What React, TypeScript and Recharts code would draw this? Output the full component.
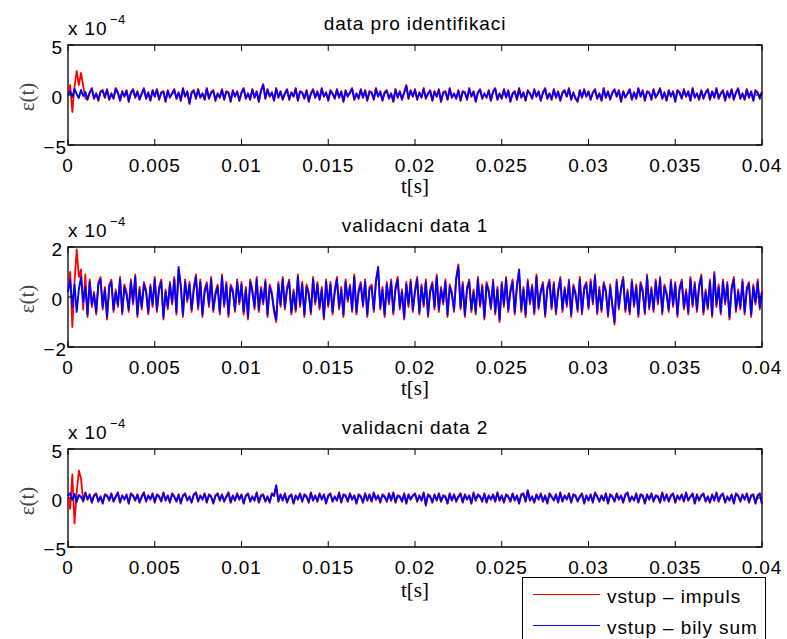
import React from 'react';
import { LineChart, Line, XAxis, YAxis, ReferenceArea, Legend, Label } from 'recharts';

// sample times (uniform sampling, step 0.125 ms)
const TIME_STEP = 0.000125;
const SAMPLE_COUNT = 321;
const TIME: number[] = Array.from({ length: SAMPLE_COUNT }, (_, i) => Number((i * TIME_STEP).toFixed(6)));

const X_TICKS = [0, 0.005, 0.01, 0.015, 0.02, 0.025, 0.03, 0.035, 0.04];
const X_TICK_LABELS = ['0', '0.005', '0.01', '0.015', '0.02', '0.025', '0.03', '0.035', '0.04'];

const TITLES = ['data pro identifikaci', 'validacni data 1', 'validacni data 2'];
const SERIES_NAMES = ['vstup \u2013 impuls', 'vstup \u2013 bily sum'];

const Y_TICKS_5 = [-5, 0, 5];
const Y_TICK_LABELS_5 = ['\u22125', '0', '5'];
const Y_TICKS_2 = [-2, 0, 2];
const Y_TICK_LABELS_2 = ['\u22122', '0', '2'];

// values in units of 1e-4
const IDENT_IMPULS = [
  0.3, 1.0, -1.7, 0.8, 2.4, 1.0, 2.2, 0.9, -0.3, -0.5, 0.3, 0.7, -0.4, 0.2, -0.6, 0.4, 0.5, -0.3, 0.6, -0.5,
  0.2, -0.4, 0.7, 0.3, -0.6, 0.4, -0.2, 0.5, -0.7, 0.3, 0.6, -0.3, 0.4, -0.5, 0.2, 0.7, -0.4, 0.3, -0.6, 0.5,
  -0.2, 0.6, -0.5, 0.3, 0.4, -0.7, 0.5, -0.3, 0.2, 0.6, -0.4, 0.3, -0.6, 0.7, -0.2, 0.4, -0.9, 0.3, 0.5, -0.4,
  0.6, -0.3, 0.2, -0.5, 0.7, -0.4, 0.3, 0.5, -0.6, 0.2, -0.3, 0.6, -0.5, 0.4, 0.3, -0.7, 0.5, -0.2, 0.4, -0.6,
  0.3, 0.7, -0.4, 0.2, -0.5, 0.6, -0.3, 0.4, -0.7, 0.5, 1.1, -0.4, 0.6, -0.2, 0.3, -0.6, 0.7, -0.3, 0.4, -0.5,
  0.2, 0.6, -0.5, 0.3, -0.2, 0.7, -0.6, 0.4, 0.3, -0.4, 0.5, -0.7, 0.2, 0.6, -0.3, 0.4, -0.5, 0.7, -0.2, 0.3,
  -0.6, 0.5, 0.2, -0.4, 0.6, -0.3, 0.4, -0.7, 0.5, -0.2, 0.3, 0.7, -0.5, 0.2, -0.4, 0.6, -0.3, 0.5, -0.6, 0.4,
  0.3, -0.5, 0.7, -0.2, 0.4, -0.6, 0.3, 0.5, -0.4, 0.2, -0.7, 0.6, -0.3, 0.4, -0.5, 0.3, 1.0, -0.4, 0.5, -0.2,
  0.6, -0.5, 0.3, -0.3, 0.7, -0.4, 0.2, 0.5, -0.6, 0.4, -0.2, 0.6, -0.7, 0.3, 0.4, -0.5, 0.7, -0.3, 0.2, -0.4,
  0.5, -0.6, 0.4, 0.3, -0.5, 0.7, -0.2, 0.4, -0.7, 0.3, 0.6, -0.4, 0.2, -0.3, 0.5, -0.6, 0.4, 0.7, -0.5, 0.2,
  -0.4, 0.6, -0.3, 0.5, -0.7, 0.2, 0.4, -0.5, 0.7, -0.3, 0.3, -0.6, 0.5, 0.2, -0.4, 0.6, -0.2, 0.4, -0.6, 0.3,
  0.7, -0.4, 0.2, -0.5, 0.6, -0.3, 0.4, -0.6, 0.3, 0.5, -0.2, 0.7, -0.5, 0.3, -0.4, -0.7, 0.5, -0.3, 0.6, -0.2,
  0.4, -0.5, 0.3, 0.6, -0.4, 0.2, -0.6, 0.7, -0.3, 0.4, -0.5, 0.3, 0.6, -0.2, 0.5, -0.7, 0.4, -0.3, 0.2, 0.6,
  -0.5, 0.3, -0.4, 0.7, -0.2, 0.5, -0.6, 0.4, 0.3, -0.5, 0.6, -0.3, 0.2, 0.7, -0.4, 0.3, -0.6, 0.5, -0.2, 0.4,
  -0.7, 0.5, 0.3, -0.4, 0.6, -0.2, 0.4, -0.6, 0.7, -0.3, 0.2, -0.5, 0.5, -0.4, 0.3, 0.6, -0.5, 0.4, -0.3, 0.7,
  -0.4, 0.2, 0.5, -0.6, 0.4, -0.3, 0.6, -0.5, 0.3, 0.7, -0.4, 0.2, -0.5, 0.6, -0.3, 0.4, -0.6, 0.5, 0.3, -0.4,
  0.4,
];
const IDENT_SUM = [
  0, 0.4, -0.2, 0.6, 0.1, -0.3, 0.5, -0.1, 0.3, -0.4, 0.2, 0.6, -0.3, 0.1, -0.5, 0.3, 0.4, -0.2, 0.5, -0.4,
  0.1, -0.3, 0.6, 0.2, -0.5, 0.3, -0.1, 0.4, -0.6, 0.2, 0.5, -0.2, 0.3, -0.4, 0.1, 0.6, -0.3, 0.2, -0.5, 0.4,
  -0.1, 0.5, -0.4, 0.2, 0.3, -0.6, 0.4, -0.2, 0.1, 0.5, -0.3, 0.2, -0.5, 0.6, -0.1, 0.3, -0.8, 0.2, 0.4, -0.3,
  0.5, -0.2, 0.1, -0.4, 0.6, -0.3, 0.2, 0.4, -0.5, 0.1, -0.2, 0.5, -0.4, 0.3, 0.2, -0.6, 0.4, -0.1, 0.3, -0.5,
  0.2, 0.6, -0.3, 0.1, -0.4, 0.5, -0.2, 0.3, -0.6, 0.4, 1.0, -0.3, 0.5, -0.1, 0.2, -0.5, 0.6, -0.2, 0.3, -0.4,
  0.1, 0.5, -0.4, 0.2, -0.1, 0.6, -0.5, 0.3, 0.2, -0.3, 0.4, -0.6, 0.1, 0.5, -0.2, 0.3, -0.4, 0.6, -0.1, 0.2,
  -0.5, 0.4, 0.1, -0.3, 0.5, -0.2, 0.3, -0.6, 0.4, -0.1, 0.2, 0.6, -0.4, 0.1, -0.3, 0.5, -0.2, 0.4, -0.5, 0.3,
  0.2, -0.4, 0.6, -0.1, 0.3, -0.5, 0.2, 0.4, -0.3, 0.1, -0.6, 0.5, -0.2, 0.3, -0.4, 0.2, 0.9, -0.3, 0.4, -0.1,
  0.5, -0.4, 0.2, -0.2, 0.6, -0.3, 0.1, 0.4, -0.5, 0.3, -0.1, 0.5, -0.6, 0.2, 0.3, -0.4, 0.6, -0.2, 0.1, -0.3,
  0.4, -0.5, 0.3, 0.2, -0.4, 0.6, -0.1, 0.3, -0.6, 0.2, 0.5, -0.3, 0.1, -0.2, 0.4, -0.5, 0.3, 0.6, -0.4, 0.1,
  -0.3, 0.5, -0.2, 0.4, -0.6, 0.1, 0.3, -0.4, 0.6, -0.2, 0.2, -0.5, 0.4, 0.1, -0.3, 0.5, -0.1, 0.3, -0.5, 0.2,
  0.6, -0.3, 0.1, -0.4, 0.5, -0.2, 0.3, -0.5, 0.2, 0.4, -0.1, 0.6, -0.4, 0.2, -0.3, -0.6, 0.4, -0.2, 0.5, -0.1,
  0.3, -0.4, 0.2, 0.5, -0.3, 0.1, -0.5, 0.6, -0.2, 0.3, -0.4, 0.2, 0.5, -0.1, 0.4, -0.6, 0.3, -0.2, 0.1, 0.5,
  -0.4, 0.2, -0.3, 0.6, -0.1, 0.4, -0.5, 0.3, 0.2, -0.4, 0.5, -0.2, 0.1, 0.6, -0.3, 0.2, -0.5, 0.4, -0.1, 0.3,
  -0.6, 0.4, 0.2, -0.3, 0.5, -0.1, 0.3, -0.5, 0.6, -0.2, 0.1, -0.4, 0.4, -0.3, 0.2, 0.5, -0.4, 0.3, -0.2, 0.6,
  -0.3, 0.1, 0.4, -0.5, 0.3, -0.2, 0.5, -0.4, 0.2, 0.6, -0.3, 0.1, -0.4, 0.5, -0.2, 0.3, -0.5, 0.4, 0.2, -0.3,
  0.3,
];

const VAL1_IMPULS = [
  0.3, 1.0, -1.2, 0.6, 1.9, 0.8, 1.1, -0.5, 0.9, -0.8, 0.7, -0.4, 0.2, -0.7, 0.6, 0.8, -0.5, 0.4, -0.9, 0.5,
  0.7, -0.6, 0.3, -0.4, 0.8, -0.7, 0.5, 0.2, -0.6, 0.7, -0.3, 0.9, -0.8, 0.4, -0.5, 0.6, 0.3, -0.7, 0.5, -0.4,
  0.8, -0.6, 0.4, 0.7, -0.9, 0.3, -0.5, 0.6, -0.3, 0.8, -0.7, 1.1, 0.5, -0.8, 0.7, -0.2, 0.6, -0.6, 0.4, 0.9,
  -0.5, 0.7, -0.8, 0.3, 0.6, -0.4, 0.8, -0.6, 0.2, 0.5, -0.7, 0.9, -0.4, 0.6, -0.8, 0.5, 0.3, -0.6, 0.7, -0.3,
  0.6, -0.7, 0.4, -0.9, 0.7, 0.3, -0.5, 0.8, -0.6, 0.4, -0.3, 0.7, -0.8, 0.5, 0.2, -0.6, -1.0, 0.6, -0.4, 0.8,
  -0.5, 0.4, 0.7, -0.7, 0.3, -0.6, 0.9, -0.4, 0.6, -0.8, 0.5, 0.2, -0.7, 0.8, -0.3, 0.6, -0.5, 0.4, -0.9, 0.7,
  -0.4, 0.6, -0.7, 0.3, 0.8, -0.5, 0.4, -0.8, 0.7, -0.2, 0.5, -0.6, 0.9, -0.7, 0.3, 0.6, -0.4, 0.7, -0.8, 0.4,
  0.5, -0.6, 0.7, 1.1, -0.5, 0.4, -0.8, 0.6, -0.3, 0.7, -0.7, 0.4, 0.8, -0.5, 0.3, -0.9, 0.6, -0.4, 0.7, -0.6,
  0.3, 0.8, -0.7, 0.5, -0.4, 0.7, -0.8, 0.3, 0.6, -0.5, 0.9, -0.6, 0.4, -0.3, 0.7, -0.8, 0.5, 0.2, -0.6, 0.8,
  1.3, -0.5, 0.6, -0.8, 0.4, 0.7, -0.6, 0.3, -0.7, 0.8, -0.4, 0.5, -0.9, 0.6, 0.3, -0.5, 0.7, -0.7, 0.4, -1.0,
  0.6, -0.4, 0.8, -0.6, 0.3, 0.7, -0.7, 0.5, 1.0, -0.6, 0.4, -0.8, 0.7, -0.3, 0.5, -0.7, 0.9, -0.5, 0.3, 0.6,
  -0.8, 0.4, 0.7, -0.5, 0.6, -0.7, 0.3, 0.8, -0.6, 0.4, -0.4, 0.7, -0.8, 0.5, 0.2, -0.6, 0.8, -0.7, 0.4, 0.6,
  -0.5, 0.7, -0.3, 0.9, -0.7, 0.4, -0.6, 0.6, 0.3, -0.8, 0.5, -0.4, -1.1, 0.7, -0.5, 0.4, 0.8, -0.6, 0.3, -0.7,
  0.7, -0.4, 0.5, -0.8, 0.6, 0.3, -0.7, 0.9, -0.5, 0.4, -0.6, 0.7, -0.3, 0.8, -0.7, 0.5, 0.2, -0.6, 0.7, -0.4,
  0.6, -0.8, 0.4, 0.7, -0.5, 0.3, -0.7, 0.8, -0.4, 0.6, -0.6, 0.5, 0.9, -0.7, 0.3, -0.5, 0.7, -0.8, 1.0, -0.4,
  0.5, -0.7, 0.7, -0.3, 0.6, -0.9, 0.4, 0.8, -0.6, 0.3, -0.5, 0.7, -0.7, 0.4, 0.6, -0.8, 0.5, -0.3, 0.7, -0.5,
  0.3,
];
const VAL1_SUM = [
  0.2, 0.7, -0.4, 0.5, -0.6, 0.3, 0.8, -0.2, 0.4, -0.7, 0.6, -0.3, 0.1, -0.6, 0.5, 0.7, -0.4, 0.3, -0.8, 0.4,
  0.6, -0.5, 0.2, -0.3, 0.7, -0.6, 0.4, 0.1, -0.5, 0.6, -0.2, 0.8, -0.7, 0.3, -0.4, 0.5, 0.2, -0.6, 0.4, -0.3,
  0.7, -0.5, 0.3, 0.6, -0.8, 0.2, -0.4, 0.5, -0.2, 0.7, -0.6, 1.2, 0.4, -0.7, 0.6, -0.1, 0.5, -0.5, 0.3, 0.8,
  -0.4, 0.6, -0.7, 0.2, 0.5, -0.3, 0.7, -0.5, 0.1, 0.4, -0.6, 0.8, -0.3, 0.5, -0.7, 0.4, 0.2, -0.5, 0.6, -0.2,
  0.5, -0.6, 0.3, -0.8, 0.6, 0.2, -0.4, 0.7, -0.5, 0.3, -0.2, 0.6, -0.7, 0.4, 0.1, -0.5, -0.9, 0.5, -0.3, 0.7,
  -0.4, 0.3, 0.6, -0.6, 0.2, -0.5, 0.8, -0.3, 0.5, -0.7, 0.4, 0.1, -0.6, 0.7, -0.2, 0.5, -0.4, 0.3, -0.8, 0.6,
  -0.3, 0.5, -0.6, 0.2, 0.7, -0.4, 0.3, -0.7, 0.6, -0.1, 0.4, -0.5, 0.8, -0.6, 0.2, 0.5, -0.3, 0.6, -0.7, 0.3,
  0.4, -0.5, 0.6, 1.2, -0.4, 0.3, -0.7, 0.5, -0.2, 0.6, -0.6, 0.3, 0.7, -0.4, 0.2, -0.8, 0.5, -0.3, 0.6, -0.5,
  0.2, 0.7, -0.6, 0.4, -0.3, 0.6, -0.7, 0.2, 0.5, -0.4, 0.8, -0.5, 0.3, -0.2, 0.6, -0.7, 0.4, 0.1, -0.5, 0.7,
  1.2, -0.4, 0.5, -0.7, 0.3, 0.6, -0.5, 0.2, -0.6, 0.7, -0.3, 0.4, -0.8, 0.5, 0.2, -0.4, 0.6, -0.6, 0.3, -0.9,
  0.5, -0.3, 0.7, -0.5, 0.2, 0.6, -0.6, 0.4, 1.1, -0.5, 0.3, -0.7, 0.6, -0.2, 0.4, -0.6, 0.8, -0.4, 0.2, 0.5,
  -0.7, 0.3, 0.6, -0.4, 0.5, -0.6, 0.2, 0.7, -0.5, 0.3, -0.3, 0.6, -0.7, 0.4, 0.1, -0.5, 0.7, -0.6, 0.3, 0.5,
  -0.4, 0.6, -0.2, 0.8, -0.6, 0.3, -0.5, 0.5, 0.2, -0.7, 0.4, -0.3, -1.0, 0.6, -0.4, 0.3, 0.7, -0.5, 0.2, -0.6,
  0.6, -0.3, 0.4, -0.7, 0.5, 0.2, -0.6, 0.8, -0.4, 0.3, -0.5, 0.6, -0.2, 0.7, -0.6, 0.4, 0.1, -0.5, 0.6, -0.3,
  0.5, -0.7, 0.3, 0.6, -0.4, 0.2, -0.6, 0.7, -0.3, 0.5, -0.5, 0.4, 0.8, -0.6, 0.2, -0.4, 0.6, -0.7, 0.9, -0.3,
  0.4, -0.6, 0.6, -0.2, 0.5, -0.8, 0.3, 0.7, -0.5, 0.2, -0.4, 0.6, -0.6, 0.3, 0.5, -0.7, 0.4, -0.2, 0.6, -0.4,
  0.2,
];

const VAL2_IMPULS = [
  0.4, -1.1, 2.4, -2.6, 0.6, 2.8, 2.0, -0.4, 0.6, -0.2, 0.4, -0.5, 0.3, 0.5, -0.4, 0.2, -0.6, 0.4, 0.3, -0.3,
  0.5, -0.4, 0.2, 0.6, -0.5, 0.3, -0.2, 0.4, -0.6, 0.5, 0.3, -0.3, 0.4, -0.5, 0.2, 0.6, -0.4, 0.3, -0.2, 0.5,
  -0.5, 0.4, 0.2, -0.4, 0.6, -0.3, 0.3, -0.5, 0.5, 0.2, -0.4, 0.4, -0.6, 0.3, 0.5, -0.3, 0.2, -0.5, 0.4, 0.6,
  -0.4, 0.3, -0.2, 0.5, -0.5, 0.4, 0.2, -0.6, 0.3, 0.5, -0.3, 0.4, -0.4, 0.2, 0.6, -0.5, 0.3, -0.3, 0.5, -0.2,
  0.4, -0.6, 0.3, 0.5, -0.4, 0.2, -0.3, 0.6, -0.5, 0.3, 0.4, -0.4, 0.2, -0.5, 0.5, 0.3, 1.2, -0.4, 0.4, -0.3,
  0.5, -0.5, 0.2, 0.4, -0.6, 0.3, -0.2, 0.5, -0.4, 0.4, 0.2, -0.5, 0.6, -0.3, 0.3, -0.4, 0.5, -0.2, 0.4, -0.6,
  0.3, 0.5, -0.4, 0.2, -0.3, 0.6, -0.5, 0.4, 0.3, -0.4, 0.5, -0.2, 0.3, -0.6, 0.4, 0.2, -0.5, 0.5, -0.3, 0.4,
  -0.4, 0.6, -0.2, 0.3, -0.5, 0.4, 0.2, -0.4, 0.5, -0.3, 0.6, -0.5, 0.3, 0.2, -0.4, 0.5, -0.6, 0.4, -0.2, 0.3,
  0.5, -0.4, 0.3, -0.3, 0.6, -0.8, 0.4, 0.2, -0.5, 0.4, -0.3, 0.5, -0.4, 0.3, 0.2, -0.6, 0.5, -0.3, 0.4, -0.4,
  0.2, 0.5, -0.5, 0.4, -0.2, 0.3, -0.6, 0.6, -0.3, 0.4, 0.2, -0.4, 0.5, -0.5, 0.3, -0.2, 0.4, -0.4, 0.6, -0.3,
  0.3, -0.5, 0.4, 0.2, -0.4, 0.5, -0.3, 0.3, -0.6, 0.4, 0.5, -0.4, 0.7, -0.3, 0.2, -0.5, 0.4, -0.2, 0.5, -0.4,
  0.3, -0.6, 0.5, 0.2, -0.3, 0.4, -0.5, 0.6, -0.4, 0.3, -0.2, 0.5, -0.5, 0.4, 0.3, -0.4, 0.2, 0.5, -0.6, 0.3,
  -0.3, 0.4, -0.5, 0.6, 0.2, -0.4, 0.3, -0.3, 0.5, -0.6, 0.4, 0.2, -0.4, 0.5, -0.2, 0.3, -0.5, 0.4, 0.6, -0.4,
  0.2, -0.3, 0.5, -0.5, 0.4, 0.3, -0.6, 0.4, -0.2, 0.5, -0.4, 0.3, 0.2, -0.5, 0.6, -0.3, 0.4, -0.4, 0.3, 0.5,
  -0.5, 0.3, -0.2, 0.4, -0.4, 0.6, -0.3, 0.2, 0.5, -0.6, 0.4, -0.3, 0.3, 0.5, -0.4, 0.2, -0.5, 0.4, -0.3, 0.6,
  -0.4, 0.3, 0.5, -0.5, 0.2, -0.3, 0.4, -0.6, 0.5, 0.3, -0.4, 0.4, -0.2, 0.5, -0.5, 0.3, 0.4, -0.6, 0.3, 0.5,
  -0.7,
];
const VAL2_SUM = [
  0.2, 0.5, -0.2, 0.4, -0.4, 0.3, 0.1, -0.3, 0.5, -0.1, 0.3, -0.4, 0.2, 0.4, -0.3, 0.1, -0.5, 0.3, 0.2, -0.2,
  0.4, -0.3, 0.1, 0.5, -0.4, 0.2, -0.1, 0.3, -0.5, 0.4, 0.2, -0.2, 0.3, -0.4, 0.1, 0.5, -0.3, 0.2, -0.1, 0.4,
  -0.4, 0.3, 0.1, -0.3, 0.5, -0.2, 0.2, -0.4, 0.4, 0.1, -0.3, 0.3, -0.5, 0.2, 0.4, -0.2, 0.1, -0.4, 0.3, 0.5,
  -0.3, 0.2, -0.1, 0.4, -0.4, 0.3, 0.1, -0.5, 0.2, 0.4, -0.2, 0.3, -0.3, 0.1, 0.5, -0.4, 0.2, -0.2, 0.4, -0.1,
  0.3, -0.5, 0.2, 0.4, -0.3, 0.1, -0.2, 0.5, -0.4, 0.2, 0.3, -0.3, 0.1, -0.4, 0.4, 0.2, 1.3, -0.3, 0.3, -0.2,
  0.4, -0.4, 0.1, 0.3, -0.5, 0.2, -0.1, 0.4, -0.3, 0.3, 0.1, -0.4, 0.5, -0.2, 0.2, -0.3, 0.4, -0.1, 0.3, -0.5,
  0.2, 0.4, -0.3, 0.1, -0.2, 0.5, -0.4, 0.3, 0.2, -0.3, 0.4, -0.1, 0.2, -0.5, 0.3, 0.1, -0.4, 0.4, -0.2, 0.3,
  -0.3, 0.5, -0.1, 0.2, -0.4, 0.3, 0.1, -0.3, 0.4, -0.2, 0.5, -0.4, 0.2, 0.1, -0.3, 0.4, -0.5, 0.3, -0.1, 0.2,
  0.4, -0.3, 0.2, -0.2, 0.5, -0.7, 0.3, 0.1, -0.4, 0.3, -0.2, 0.4, -0.3, 0.2, 0.1, -0.5, 0.4, -0.2, 0.3, -0.3,
  0.1, 0.4, -0.4, 0.3, -0.1, 0.2, -0.5, 0.5, -0.2, 0.3, 0.1, -0.3, 0.4, -0.4, 0.2, -0.1, 0.3, -0.3, 0.5, -0.2,
  0.2, -0.4, 0.3, 0.1, -0.3, 0.4, -0.2, 0.2, -0.5, 0.3, 0.4, -0.3, 0.8, -0.2, 0.1, -0.4, 0.3, -0.1, 0.4, -0.3,
  0.2, -0.5, 0.4, 0.1, -0.2, 0.3, -0.4, 0.5, -0.3, 0.2, -0.1, 0.4, -0.4, 0.3, 0.2, -0.3, 0.1, 0.4, -0.5, 0.2,
  -0.2, 0.3, -0.4, 0.5, 0.1, -0.3, 0.2, -0.2, 0.4, -0.5, 0.3, 0.1, -0.3, 0.4, -0.1, 0.2, -0.4, 0.3, 0.5, -0.3,
  0.1, -0.2, 0.4, -0.4, 0.3, 0.2, -0.5, 0.3, -0.1, 0.4, -0.3, 0.2, 0.1, -0.4, 0.5, -0.2, 0.3, -0.3, 0.2, 0.4,
  -0.4, 0.2, -0.1, 0.3, -0.3, 0.5, -0.2, 0.1, 0.4, -0.5, 0.3, -0.2, 0.2, 0.4, -0.3, 0.1, -0.4, 0.3, -0.2, 0.5,
  -0.3, 0.2, 0.4, -0.4, 0.1, -0.2, 0.3, -0.5, 0.4, 0.2, -0.3, 0.3, -0.1, 0.4, -0.4, 0.2, 0.3, -0.5, 0.2, 0.4,
  -0.6,
];

const SANS = '"Liberation Sans", Arial, Helvetica, sans-serif';
const SERIF = '"Liberation Serif", "Times New Roman", serif';
const W = 787;
const PL = 68;
const PR = 762;
const PT = 45;
const TICK_LEN = 6;

type PanelProps = {
  top: number;
  height: number;
  plotBottom: number;
  title: string;
  impuls: number[];
  sum: number[];
  yMax: number;
  yTicks: number[];
  yTickLabels: string[];
  showLegend?: boolean;
};

const sansStyle = { fontFamily: SANS, fontSize: 19, letterSpacing: 0.9 } as React.CSSProperties;
const serifStyle = { fontFamily: SERIF, fontSize: 21 } as React.CSSProperties;

const LegendBox = (props: any) => {
  const payload = [...(props.payload || [])].sort(
    (a: any, b: any) => SERIES_NAMES.indexOf(a.value) - SERIES_NAMES.indexOf(b.value)
  );
  return (
    <svg width={245} height={70} style={{ display: 'block' }}>
      <rect x={0.5} y={0.5} width={243} height={90} fill="#fff" stroke="#000" strokeWidth={1} />
      {payload.map((e: any, i: number) => (
        <g key={i}>
          <line x1={11} x2={78} y1={17.5 + 31 * i} y2={17.5 + 31 * i} stroke={e.color} strokeWidth={1} />
          <text x={85} y={26 + 31 * i} style={sansStyle} fill="#000">
            {e.value}
          </text>
        </g>
      ))}
    </svg>
  );
};

function Panel(p: PanelProps) {
  const PB = p.plotBottom;
  const data = TIME.map((t, i) => ({ t, impuls: p.impuls[i], sum: p.sum[i] }));
  const cx = (PL + PR) / 2;

  const xTick = (props: any) => {
    const x = props.x;
    const idx = X_TICKS.indexOf(props.payload.value);
    return (
      <g>
        <line x1={x} x2={x} y1={PB} y2={PB - TICK_LEN} stroke="#000" strokeWidth={1} />
        <line x1={x} x2={x} y1={PT} y2={PT + TICK_LEN} stroke="#000" strokeWidth={1} />
        <text x={x} y={PB + 27} textAnchor="middle" style={sansStyle} fill="#000">
          {idx >= 0 ? X_TICK_LABELS[idx] : String(props.payload.value)}
        </text>
      </g>
    );
  };

  const yTick = (props: any) => {
    const y = props.y;
    const idx = p.yTicks.indexOf(props.payload.value);
    const neg = props.payload.value < 0;
    return (
      <g>
        <line x1={PL} x2={PL + TICK_LEN} y1={y} y2={y} stroke="#000" strokeWidth={1} />
        <line x1={PR} x2={PR - TICK_LEN} y1={y} y2={y} stroke="#000" strokeWidth={1} />
        <text x={neg ? 67 : 63} y={y + 8.5} textAnchor="end" style={sansStyle} fill="#000">
          {idx >= 0 ? p.yTickLabels[idx] : String(props.payload.value)}
        </text>
      </g>
    );
  };

  return (
    <div style={{ position: 'absolute', left: 0, top: p.top, width: W, height: p.height }}>
      <LineChart
        width={W}
        height={p.height}
        data={data}
        margin={{ top: PT, right: W - PR, bottom: p.height - PB - 30, left: PL - 60 }}
      >
        <XAxis
          type="number"
          dataKey="t"
          domain={[0, 0.04]}
          ticks={X_TICKS}
          interval={0}
          height={30}
          axisLine={false}
          tickLine={false}
          tick={xTick}
        >
          <Label
            content={() => (
              <text x={cx} y={193} textAnchor="middle" style={serifStyle} fill="#000">
                t[s]
              </text>
            )}
          />
        </XAxis>
        <YAxis
          type="number"
          domain={[-p.yMax, p.yMax]}
          ticks={p.yTicks}
          interval={0}
          width={60}
          axisLine={false}
          tickLine={false}
          tick={yTick}
        >
          <Label
            content={() => (
              <text
                x={34}
                y={97}
                transform="rotate(-90, 34, 97)"
                textAnchor="middle"
                style={serifStyle}
                fill="#444"
              >
                {'\u03b5(t)'}
              </text>
            )}
          />
        </YAxis>
        <ReferenceArea
          x1={0}
          x2={0.04}
          y1={-p.yMax}
          y2={p.yMax}
          fill="none"
          fillOpacity={0}
          stroke="#000"
          strokeWidth={1.3}
          ifOverflow="visible"
        />
        <Line
          type="linear"
          dataKey="impuls"
          name={SERIES_NAMES[0]}
          stroke="#ff0000"
          strokeWidth={1.8}
          strokeLinejoin="round"
          dot={false}
          activeDot={false}
          isAnimationActive={false}
        />
        <Line
          type="linear"
          dataKey="sum"
          name={SERIES_NAMES[1]}
          stroke="#0000ff"
          strokeWidth={1.9}
          strokeLinejoin="round"
          dot={false}
          activeDot={false}
          isAnimationActive={false}
        />
        {p.showLegend ? (
          <Legend
            layout="horizontal"
            verticalAlign="middle"
            align="center"
            wrapperStyle={{ left: 522, top: 577 - p.top, width: 245, height: 70 }}
            content={LegendBox}
          />
        ) : null}
      </LineChart>
      <svg
        width={W}
        height={44}
        style={{ position: 'absolute', left: 0, top: 0, pointerEvents: 'none' }}
      >
        <text x={cx} y={30} textAnchor="middle" style={sansStyle} fill="#000">
          {p.title}
        </text>
        <text x={68} y={35} style={sansStyle} fill="#000">
          x 10
        </text>
        <text x={110} y={24} style={{ fontFamily: SANS, fontSize: 13, letterSpacing: 0.5 }} fill="#000">
          {'\u22124'}
        </text>
      </svg>
    </div>
  );
}

export default function App() {
  return (
    <div
      style={{
        position: 'absolute',
        left: 0,
        top: 0,
        width: W,
        height: 639,
        overflow: 'hidden',
        background: '#fff',
      }}
    >
      <Panel
        top={0}
        height={200}
        plotBottom={145}
        title={TITLES[0]}
        impuls={IDENT_IMPULS}
        sum={IDENT_SUM}
        yMax={5}
        yTicks={Y_TICKS_5}
        yTickLabels={Y_TICK_LABELS_5}
      />
      <Panel
        top={202}
        height={200}
        plotBottom={145}
        title={TITLES[1]}
        impuls={VAL1_IMPULS}
        sum={VAL1_SUM}
        yMax={2}
        yTicks={Y_TICKS_2}
        yTickLabels={Y_TICK_LABELS_2}
      />
      <Panel
        top={404}
        height={235}
        plotBottom={143}
        title={TITLES[2]}
        impuls={VAL2_IMPULS}
        sum={VAL2_SUM}
        yMax={5}
        yTicks={Y_TICKS_5}
        yTickLabels={Y_TICK_LABELS_5}
        showLegend
      />
    </div>
  );
}
